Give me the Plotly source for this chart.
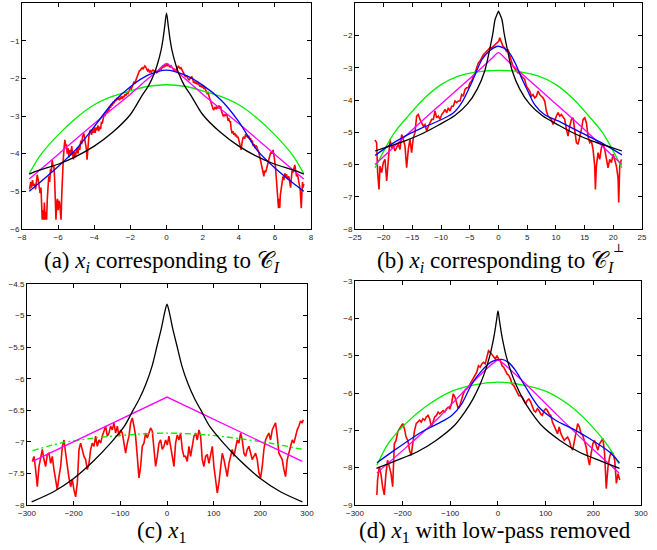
import plotly.graph_objects as go

# ---------------- Panel (a) ----------------
RED_A = [(-7.58,-4.95),(-7.52,-4.75),(-7.47,-4.9),(-7.42,-4.7),(-7.37,-4.85),(-7.3,-4.8),(-7.25,-4.95),(-7.2,-4.75),(-7.16,-4.56),(-7.1,-4.7),(-7.05,-4.95),(-7.0,-5.05),(-6.95,-4.9),(-6.92,-5.4),(-6.88,-5.75),(-6.84,-5.5),(-6.8,-5.75),(-6.76,-5.3),(-6.72,-5.75),(-6.68,-5.55),(-6.64,-5.75),(-6.6,-5.2),(-6.56,-4.9),(-6.52,-4.6),(-6.47,-4.75),(-6.42,-4.4),(-6.38,-4.5),(-6.33,-4.16),(-6.28,-4.35),(-6.24,-4.3),(-6.2,-4.6),(-6.16,-5.1),(-6.12,-5.75),(-6.08,-5.3),(-6.04,-5.2),(-6.0,-5.5),(-5.96,-5.25),(-5.92,-5.3),(-5.88,-5.6),(-5.84,-5.75),(-5.8,-5.1),(-5.77,-4.6),(-5.72,-4.2),(-5.68,-3.9),(-5.63,-3.63),(-5.58,-3.8),(-5.54,-3.75),(-5.5,-4.0),(-5.45,-3.85),(-5.4,-4.1),(-5.35,-3.9),(-5.3,-4.05),(-5.25,-3.8),(-5.2,-4.0),(-5.15,-4.15),(-5.1,-3.95),(-5.05,-4.1),(-5.0,-3.95),(-4.95,-3.85),(-4.9,-4.0),(-4.85,-3.8),(-4.8,-3.9),(-4.75,-3.65),(-4.7,-3.75),(-4.65,-3.55),(-4.58,-3.46),(-4.53,-3.6),(-4.48,-3.75),(-4.43,-3.9),(-4.4,-4.16),(-4.36,-3.8),(-4.3,-3.55),(-4.24,-3.4),(-4.2,-3.37),(-4.15,-3.5),(-4.1,-3.35),(-4.05,-3.45),(-4.0,-3.3),(-3.95,-3.45),(-3.9,-3.3),(-3.85,-3.38),(-3.8,-3.25),(-3.75,-3.4),(-3.7,-3.28),(-3.65,-3.35),(-3.6,-3.15),(-3.56,-3.2),(-3.5,-3.05),(-3.45,-2.95),(-3.4,-3.0),(-3.35,-2.88),(-3.3,-2.92),(-3.25,-2.82),(-3.2,-2.86),(-3.15,-2.75),(-3.1,-2.78),(-3.05,-2.68),(-3.0,-2.72),(-2.95,-2.62),(-2.9,-2.66),(-2.85,-2.57),(-2.8,-2.6),(-2.75,-2.52),(-2.7,-2.57),(-2.65,-2.5),(-2.6,-2.58),(-2.55,-2.52),(-2.5,-2.48),(-2.45,-2.55),(-2.4,-2.47),(-2.35,-2.5),(-2.3,-2.42),(-2.25,-2.46),(-2.2,-2.38),(-2.15,-2.42),(-2.1,-2.36),(-2.05,-2.32),(-2.0,-2.25),(-1.95,-2.28),(-1.9,-2.2),(-1.85,-2.16),(-1.8,-2.1),(-1.75,-2.12),(-1.7,-2.05),(-1.65,-1.98),(-1.6,-1.9),(-1.55,-1.85),(-1.5,-1.8),(-1.45,-1.78),(-1.4,-1.75),(-1.35,-1.72),(-1.3,-1.75),(-1.25,-1.7),(-1.2,-1.67),(-1.15,-1.7),(-1.1,-1.75),(-1.05,-1.8),(-1.0,-1.77),(-0.95,-1.83),(-0.9,-1.8),(-0.85,-1.84),(-0.8,-1.8),(-0.75,-1.78),(-0.7,-1.8),(-0.65,-1.83),(-0.6,-1.79),(-0.55,-1.85),(-0.5,-1.84),(-0.45,-1.8),(-0.4,-1.77),(-0.35,-1.74),(-0.3,-1.76),(-0.25,-1.7),(-0.2,-1.68),(-0.15,-1.7),(-0.1,-1.65),(-0.05,-1.67),(0.0,-1.62),(0.05,-1.66),(0.1,-1.64),(0.15,-1.68),(0.2,-1.7),(0.25,-1.67),(0.3,-1.72),(0.35,-1.75),(0.4,-1.78),(0.45,-1.76),(0.5,-1.8),(0.55,-1.78),(0.6,-1.72),(0.65,-1.68),(0.7,-1.7),(0.75,-1.74),(0.8,-1.72),(0.85,-1.77),(0.9,-1.8),(0.95,-1.85),(1.0,-1.9),(1.05,-1.96),(1.1,-1.92),(1.15,-1.98),(1.2,-2.02),(1.25,-2.04),(1.3,-2.0),(1.35,-1.96),(1.4,-1.95),(1.45,-2.02),(1.5,-2.12),(1.55,-2.08),(1.6,-2.14),(1.65,-2.1),(1.7,-2.16),(1.75,-2.12),(1.8,-2.18),(1.85,-2.22),(1.9,-2.18),(1.95,-2.24),(2.0,-2.2),(2.05,-2.26),(2.1,-2.24),(2.15,-2.3),(2.2,-2.35),(2.25,-2.4),(2.3,-2.38),(2.35,-2.5),(2.4,-2.55),(2.45,-2.62),(2.5,-2.7),(2.55,-2.78),(2.6,-2.84),(2.65,-2.8),(2.7,-2.76),(2.75,-2.82),(2.8,-2.74),(2.85,-2.8),(2.9,-2.72),(2.95,-2.78),(3.0,-2.75),(3.05,-2.88),(3.1,-2.95),(3.15,-3.01),(3.2,-2.96),(3.25,-3.0),(3.3,-2.94),(3.36,-3.0),(3.4,-3.1),(3.45,-3.08),(3.5,-3.15),(3.54,-3.15),(3.58,-3.35),(3.63,-3.46),(3.68,-3.4),(3.73,-3.5),(3.78,-3.45),(3.82,-3.54),(3.87,-3.5),(3.92,-3.58),(3.96,-3.55),(4.0,-3.63),(4.05,-3.7),(4.1,-3.8),(4.13,-3.9),(4.17,-3.75),(4.22,-3.6),(4.28,-3.55),(4.33,-3.6),(4.38,-3.48),(4.43,-3.55),(4.46,-3.5),(4.5,-3.58),(4.55,-3.52),(4.6,-3.62),(4.65,-3.58),(4.7,-3.68),(4.75,-3.65),(4.8,-3.8),(4.85,-3.75),(4.9,-3.85),(4.95,-3.78),(5.0,-3.82),(5.05,-3.9),(5.1,-3.95),(5.15,-4.05),(5.2,-4.16),(5.25,-4.3),(5.3,-4.4),(5.35,-4.55),(5.39,-4.6),(5.43,-4.45),(5.48,-4.5),(5.54,-4.4),(5.58,-4.3),(5.63,-4.2),(5.68,-4.1),(5.72,-4.05),(5.76,-3.99),(5.8,-3.95),(5.85,-4.0),(5.9,-3.9),(5.95,-4.05),(6.0,-4.2),(6.03,-4.34),(6.07,-4.6),(6.1,-4.85),(6.13,-5.05),(6.16,-5.2),(6.2,-5.45),(6.23,-5.2),(6.27,-5.44),(6.3,-5.1),(6.35,-4.9),(6.4,-4.78),(6.45,-4.6),(6.5,-4.7),(6.55,-4.52),(6.6,-4.6),(6.65,-4.55),(6.7,-4.68),(6.77,-4.6),(6.82,-4.75),(6.87,-4.9),(6.9,-4.7),(6.96,-4.43),(7.0,-4.5),(7.05,-4.35),(7.1,-4.3),(7.15,-4.45),(7.2,-4.6),(7.25,-4.55),(7.3,-4.7),(7.35,-4.8),(7.4,-4.95),(7.43,-5.2),(7.46,-5.45),(7.5,-5.0),(7.53,-4.75),(7.56,-4.9),(7.6,-4.8)]

BLACK_A_X = [-7.6,-7,-6,-5,-4,-3,-2,-1.35,-1,-0.7,-0.5,-0.3,-0.2,-0.1,0,0.1,0.2,0.3,0.5,0.7,1,1.35,2,3,4,5,6,7,7.6]
BLACK_A_Y = [-4.54,-4.43,-4.28,-4.07,-3.8,-3.44,-2.96,-2.45,-2.2,-1.9,-1.62,-1.25,-0.98,-0.62,-0.27,-0.62,-0.98,-1.25,-1.62,-1.9,-2.2,-2.45,-2.96,-3.44,-3.8,-4.07,-4.28,-4.43,-4.54]
GREEN_A_X = [-7.6,-7,-6,-5,-4,-3,-2,-1,0,1,2,3,4,5,6,7,7.6]
GREEN_A_Y = [-4.53,-4.05,-3.5,-3.05,-2.7,-2.48,-2.33,-2.21,-2.17,-2.21,-2.33,-2.48,-2.7,-3.05,-3.5,-4.05,-4.53]
MAGENTA_A_X = [-7.6,-6,-4,-2,-1,-0.5,-0.2,0,0.2,0.5,1,2,4,6,7.6]
MAGENTA_A_Y = [-4.67,-4.02,-3.2,-2.42,-2.0,-1.8,-1.66,-1.6,-1.66,-1.8,-2.0,-2.42,-3.2,-4.02,-4.67]
BLUE_A_X = [-7.6,-7,-6,-5,-4,-3,-2,-1,0,1,2,3,4,5,6,7,7.6]
BLUE_A_Y = [-5.0,-4.76,-4.34,-3.88,-3.28,-2.66,-2.22,-1.91,-1.78,-1.91,-2.18,-2.57,-3.15,-3.9,-4.38,-4.78,-5.0]

# ---------------- Panel (b) ----------------
RED_B = [(-21.52,-5.24),(-21.23,-5.32),(-21.05,-6.25),(-20.82,-6.77),(-20.64,-6.05),(-20.35,-6.25),(-20.06,-5.94),(-19.77,-5.84),(-19.48,-6.51),(-19.19,-5.84),(-18.9,-5.22),(-18.61,-5.48),(-18.32,-5.43),(-18.03,-5.58),(-17.74,-5.48),(-17.45,-5.37),(-17.16,-5.53),(-16.87,-5.07),(-16.58,-5.22),(-16.29,-5.43),(-16.0,-6.1),(-15.71,-5.53),(-15.42,-5.22),(-15.13,-5.63),(-14.84,-5.17),(-14.55,-5.01),(-14.26,-4.5),(-13.97,-4.45),(-13.68,-4.6),(-13.39,-4.7),(-13.1,-4.81),(-12.8,-4.76),(-12.51,-4.96),(-12.22,-4.81),(-11.93,-4.7),(-11.64,-4.6),(-11.35,-4.6),(-11.06,-4.34),(-10.77,-4.55),(-10.48,-4.5),(-10.19,-4.6),(-9.9,-4.45),(-9.61,-4.39),(-9.32,-4.29),(-9.03,-4.39),(-8.74,-4.24),(-8.45,-4.34),(-8.16,-4.19),(-7.87,-4.19),(-7.58,-4.03),(-7.29,-4.08),(-7.0,-4.03),(-6.71,-4.03),(-6.42,-3.83),(-6.13,-3.88),(-5.84,-3.67),(-5.55,-3.62),(-5.26,-3.62),(-4.97,-3.47),(-4.67,-3.41),(-4.38,-3.26),(-4.09,-3.16),(-3.8,-3.0),(-3.51,-2.85),(-3.22,-2.79),(-2.93,-2.69),(-2.64,-2.59),(-2.35,-2.54),(-2.06,-2.49),(-1.77,-2.43),(-1.48,-2.38),(-1.19,-2.38),(-0.9,-2.33),(-0.61,-2.28),(-0.32,-2.23),(0.03,-2.18),(0.21,-2.07),(0.5,-2.18),(0.79,-2.33),(1.08,-2.38),(1.37,-2.49),(1.66,-2.43),(1.95,-2.64),(2.24,-2.79),(2.53,-2.95),(2.82,-3.05),(3.11,-3.1),(3.4,-3.16),(3.7,-3.16),(3.99,-3.26),(4.28,-3.31),(4.57,-3.36),(4.86,-3.57),(5.15,-3.67),(5.44,-3.72),(5.73,-3.88),(6.02,-3.83),(6.31,-3.93),(6.6,-3.88),(6.89,-3.72),(7.18,-3.83),(7.47,-3.88),(7.76,-3.93),(8.05,-4.03),(8.34,-4.34),(8.63,-4.5),(8.92,-4.55),(9.21,-4.6),(9.5,-4.76),(9.79,-4.6),(10.08,-4.5),(10.37,-4.39),(10.66,-4.5),(10.95,-4.45),(11.24,-4.55),(11.53,-4.6),(11.83,-4.91),(12.12,-5.12),(12.41,-4.81),(12.7,-4.6),(12.99,-4.55),(13.28,-5.01),(13.57,-5.32),(13.86,-5.37),(14.15,-5.17),(14.44,-4.91),(14.73,-4.6),(15.02,-4.55),(15.31,-4.7),(15.6,-5.12),(15.89,-5.32),(16.18,-5.27),(16.47,-5.53),(16.76,-6.05),(16.88,-6.77),(17.05,-6.05),(17.34,-5.63),(17.63,-5.84),(17.92,-5.48),(18.21,-5.37),(18.5,-5.53),(18.79,-5.84),(19.08,-6.1),(19.37,-5.84),(19.67,-5.94),(19.96,-5.68),(20.25,-5.84),(20.54,-6.05),(20.83,-6.41),(20.94,-7.18),(21.12,-6.05),(21.41,-5.84)]

BLACK_B_X = [-21.5,-19,-16.5,-13.5,-10.5,-7.6,-5.4,-3.7,-2.4,-1.5,-1.0,-0.6,-0.3,-0.15,0,0.15,0.3,0.6,1.0,1.5,2.4,3.7,5.4,7.6,10.5,13.5,16.5,19,21.5]
BLACK_B_Y = [-5.58,-5.43,-5.28,-5.06,-4.78,-4.48,-4.12,-3.66,-3.1,-2.4,-1.95,-1.5,-1.36,-1.3,-1.24,-1.3,-1.36,-1.5,-1.95,-2.4,-3.1,-3.66,-4.12,-4.48,-4.78,-5.06,-5.28,-5.43,-5.58]
GREEN_B_X = [-21.5,-19.5,-18,-16,-13,-10,-7,-4,0,4,7,10,13,16,18,19.5,21.5]
GREEN_B_Y = [-6.1,-5.42,-4.98,-4.55,-3.96,-3.52,-3.26,-3.13,-3.08,-3.13,-3.26,-3.52,-3.96,-4.55,-4.98,-5.42,-6.1]
MAGENTA_B_X = [-21.5,-15,-10,-5,-1,-0.4,0,0.4,1,5,10,15,21.5]
MAGENTA_B_Y = [-6.0,-4.92,-4.12,-3.33,-2.68,-2.57,-2.53,-2.57,-2.68,-3.33,-4.12,-4.92,-6.0]
BLUE_B_X = [-21.5,-19.2,-16.5,-13.5,-10.5,-8,-6.4,-4.7,-2.9,-1.7,0,1.7,2.9,4,5.1,6.3,8,11,14.4,17.9,21.5]
BLUE_B_Y = [-5.72,-5.43,-5.14,-4.88,-4.65,-4.42,-4.08,-3.47,-2.75,-2.49,-2.33,-2.49,-2.85,-3.31,-3.72,-4.14,-4.45,-4.7,-5.01,-5.32,-5.7]

# ---------------- Panel (c) ----------------
RED_C_X = [-288.6,-285.0,-281.5,-277.9,-274.3,-270.8,-267.2,-263.6,-260.0,-256.5,-252.9,-249.3,-245.8,-242.2,-238.6,-235.1,-231.5,-227.9,-224.3,-220.8,-217.2,-213.6,-210.1,-206.5,-202.9,-199.4,-195.8,-192.2,-188.6,-185.1,-181.5,-177.9,-174.4,-170.8,-167.2,-163.6,-160.1,-156.5,-152.9,-149.4,-145.8,-142.2,-138.7,-135.1,-131.5,-127.9,-124.4,-120.8,-117.2,-113.7,-110.1,-106.5,-102.9,-99.4,-95.8,-92.2,-88.7,-85.1,-81.5,-78.0,-74.4,-70.8,-67.3,-63.7,-60.1,-56.5,-53.0,-49.4,-45.8,-42.3,-38.7,-35.1,-31.5,-28.0,-24.4,-20.8,-17.3,-13.7,-10.1,-6.6,-3.0,0.6,4.1,7.7,11.3,14.9,18.4,22.0,25.6,29.1,32.7,36.3,39.8,43.4,47.0,50.6,54.1,57.7,61.3,64.8,68.4,72.0,75.5,79.1,82.7,86.3,89.8,93.4,97.0,100.5,104.1,107.7,111.2,114.8,118.4,122.0,125.5,129.1,132.7,136.2,139.8,143.4,146.9,150.5,154.1,157.7,161.2,164.8,168.4,171.9,175.5,179.1,182.6,186.2,189.8,193.4,196.9,200.5,204.1,207.6,211.2,214.8,218.3,221.9,225.5,229.1,232.6,236.2,239.8,243.3,246.9,250.5,254.0,257.6,261.2,264.8,268.3,271.9,275.5,279.0,282.6,286.2,289.7,291.9]
RED_C_Y = [-7.31,-7.23,-7.44,-7.71,-7.39,-7.23,-7.12,-7.28,-7.39,-7.20,-7.18,-7.34,-7.23,-7.44,-7.60,-7.76,-7.55,-7.39,-7.07,-6.97,-7.18,-7.39,-7.57,-7.71,-7.60,-7.76,-7.87,-7.65,-7.12,-7.02,-7.12,-7.23,-7.28,-7.44,-7.34,-7.12,-7.02,-7.07,-6.91,-7.07,-6.97,-7.02,-6.91,-6.81,-6.75,-6.91,-6.86,-6.75,-6.81,-6.70,-6.86,-6.75,-6.91,-6.81,-6.86,-7.02,-7.18,-7.02,-6.91,-6.70,-6.62,-6.75,-6.91,-7.23,-7.57,-7.39,-7.07,-7.02,-6.86,-6.94,-6.86,-6.78,-6.83,-7.12,-7.39,-7.23,-7.02,-6.97,-7.12,-7.07,-6.97,-7.05,-6.91,-7.07,-7.23,-7.39,-7.02,-6.89,-6.97,-6.86,-7.12,-7.23,-7.23,-7.31,-7.07,-7.23,-7.07,-6.91,-6.86,-6.97,-6.81,-6.91,-7.28,-7.39,-7.23,-7.20,-7.34,-7.23,-7.07,-7.39,-7.60,-7.81,-7.65,-7.44,-7.18,-7.28,-7.39,-7.55,-7.34,-7.23,-7.12,-7.23,-7.07,-6.97,-7.02,-6.86,-6.97,-7.18,-7.23,-7.12,-7.07,-7.18,-7.28,-7.23,-7.18,-7.28,-7.49,-7.57,-7.39,-7.12,-6.97,-6.91,-6.86,-6.97,-6.81,-6.75,-6.70,-6.91,-7.18,-7.23,-7.28,-7.44,-7.55,-7.28,-7.18,-7.07,-6.97,-7.02,-6.91,-6.81,-6.75,-6.67,-6.70,-6.65]

BLACK_C_X = [-290,-243,-200,-157,-121,-92,-72,-60,-45,-32,-21,-12,-5,0,5,12,21,32,45,60,72,92,121,157,200,243,290]
BLACK_C_Y = [-7.95,-7.79,-7.58,-7.3,-7.02,-6.76,-6.49,-6.33,-6.08,-5.8,-5.47,-5.2,-4.95,-4.82,-4.95,-5.2,-5.47,-5.8,-6.08,-6.33,-6.49,-6.76,-7.02,-7.3,-7.58,-7.79,-7.95]
MAGENTA_C_X = [-288,0,290]
MAGENTA_C_Y = [-7.31,-6.29,-7.31]
GREEN_C_X = [-288,-228,-157,-85,0,86,157,228,291]
GREEN_C_Y = [-7.14,-7.02,-6.94,-6.89,-6.86,-6.89,-6.95,-7.03,-7.12]

# ---------------- Panel (d) ----------------
RED_D_X = [-254.1,-252.6,-249.1,-245.6,-242.1,-238.5,-235.0,-231.5,-227.9,-224.4,-220.9,-218.8,-217.4,-213.8,-210.3,-206.8,-203.2,-199.7,-196.2,-192.7,-189.1,-185.6,-182.1,-178.5,-175.0,-171.5,-168.0,-164.4,-160.9,-157.4,-153.8,-150.3,-146.8,-143.3,-139.7,-136.2,-132.7,-129.1,-125.6,-122.1,-118.6,-115.0,-111.5,-108.0,-104.4,-100.9,-97.4,-93.9,-90.3,-86.8,-83.3,-79.7,-76.2,-72.7,-69.2,-65.6,-62.1,-58.6,-55.0,-51.5,-48.0,-44.5,-40.9,-37.4,-33.9,-30.3,-26.8,-23.3,-19.8,-16.2,-12.7,-9.2,-5.6,-2.1,1.4,4.9,8.5,12.0,15.5,19.1,22.6,26.1,29.6,33.2,36.7,40.2,43.8,47.3,50.8,54.3,57.9,61.4,64.9,68.5,72.0,75.5,79.0,82.6,86.1,89.6,93.2,96.7,100.2,103.7,107.3,110.8,114.3,117.9,121.4,124.9,128.4,132.0,135.5,139.0,142.6,146.1,149.6,153.1,156.7,160.2,163.7,167.3,170.8,174.3,177.8,181.4,184.9,188.4,192.0,195.5,199.0,202.5,206.1,209.6,213.1,216.7,220.2,223.7,227.2,230.8,234.3,237.8,241.4,244.9,248.4,251.9,255.5]
RED_D_Y = [-8.73,-8.33,-7.98,-8.16,-8.51,-8.73,-8.16,-7.80,-7.98,-8.16,-8.51,-7.98,-7.36,-7.27,-7.04,-6.96,-6.87,-6.82,-6.96,-7.18,-7.27,-7.53,-7.67,-7.27,-7.00,-6.82,-6.78,-6.73,-6.78,-6.69,-6.73,-6.64,-6.60,-6.69,-6.91,-6.78,-6.64,-6.60,-6.51,-6.56,-6.51,-6.47,-6.51,-6.42,-6.38,-6.42,-6.29,-6.02,-6.11,-6.29,-6.42,-6.33,-6.16,-6.02,-5.93,-5.89,-5.84,-5.76,-5.67,-5.58,-5.49,-5.44,-5.27,-5.31,-5.22,-5.18,-5.22,-5.00,-4.87,-4.91,-4.96,-5.04,-5.09,-5.00,-5.09,-5.13,-5.27,-5.31,-5.40,-5.49,-5.53,-5.62,-5.76,-5.80,-5.89,-5.98,-6.07,-6.07,-6.11,-6.20,-6.29,-6.20,-6.16,-6.24,-6.38,-6.47,-6.51,-6.42,-6.47,-6.56,-6.60,-6.47,-6.42,-6.47,-6.56,-6.60,-6.78,-6.87,-7.00,-7.09,-6.91,-7.09,-7.18,-7.27,-7.22,-7.18,-7.27,-7.44,-7.53,-7.27,-7.00,-6.82,-6.91,-7.09,-7.13,-7.27,-7.44,-7.71,-7.93,-7.62,-7.36,-7.27,-7.44,-7.53,-7.36,-7.27,-7.22,-7.62,-8.56,-7.98,-7.71,-7.58,-7.62,-7.80,-8.42,-8.16,-8.33]

BLACK_D_X = [-255,-215,-170,-130,-90,-69,-52,-37,-27,-17,-12,-7,-3,0,3,7,12,17,27,37,52,69,90,130,170,215,255]
BLACK_D_Y = [-8.02,-7.82,-7.58,-7.27,-6.85,-6.5,-6.15,-5.75,-5.42,-5.0,-4.72,-4.38,-4.05,-3.8,-4.05,-4.38,-4.72,-5.0,-5.42,-5.75,-6.15,-6.5,-6.85,-7.27,-7.58,-7.82,-8.02]
GREEN_D_X = [-254,-230,-192,-150,-100,-50,0,50,100,150,192,230,254]
GREEN_D_Y = [-7.93,-7.35,-6.8,-6.35,-5.97,-5.78,-5.71,-5.78,-5.95,-6.33,-6.82,-7.4,-7.9]
MAGENTA_D_X = [-254,-192,-125,-60,-10,0,10,60,125,192,254]
MAGENTA_D_Y = [-8.14,-7.45,-6.67,-5.8,-5.2,-5.12,-5.2,-5.78,-6.6,-7.42,-8.14]
BLUE_D_X = [-254,-217,-161,-126,-97,-76,-55,-34,-13,8,22,37,58,86,121,157,192,234,255]
BLUE_D_Y = [-7.87,-7.53,-7.05,-6.82,-6.6,-6.29,-5.76,-5.4,-5.16,-5.1,-5.18,-5.4,-5.84,-6.38,-6.73,-6.96,-7.22,-7.58,-7.87]

CAPTIONS = [
    "(a) <i>x</i><sub><i>i</i></sub> corresponding to \U0001D49E<sub><i>I</i></sub>",
    "(b) <i>x</i><sub><i>i</i></sub> corresponding to \U0001D49E<sub><i>I</i></sub>",
    "(c) <i>x</i><sub>1</sub>",
    "(d) <i>x</i><sub>1</sub> with low-pass removed",
]

RED = "#ff0000"
GREEN = "#00ee00"
BLUE = "#0000ff"
MAGENTA = "#ff00ff"
BLACK = "#000000"

fig = go.Figure()


def line(x, y, color, width, ax, shape="linear", dash="solid"):
    fig.add_trace(go.Scatter(
        x=x, y=y, mode="lines", xaxis="x" + ax, yaxis="y" + ax,
        line=dict(color=color, width=width, shape=shape, dash=dash,
                  smoothing=0.8 if shape == "spline" else None),
        hoverinfo="skip", showlegend=False))


def unzip(pairs):
    return [p[0] for p in pairs], [p[1] for p in pairs]


rx, ry = unzip(RED_A)
line(rx, ry, RED, 1.6, "")
line(GREEN_A_X, GREEN_A_Y, GREEN, 1.3, "", "spline")
line(MAGENTA_A_X, MAGENTA_A_Y, MAGENTA, 1.3, "", "spline")
line(BLUE_A_X, BLUE_A_Y, BLUE, 1.3, "", "spline")
line(BLACK_A_X, BLACK_A_Y, BLACK, 1.3, "", "spline")

rx, ry = unzip(RED_B)
line(rx, ry, RED, 1.6, "2")
line(GREEN_B_X, GREEN_B_Y, GREEN, 1.3, "2", "spline")
line(MAGENTA_B_X, MAGENTA_B_Y, MAGENTA, 1.3, "2", "spline")
line(BLUE_B_X, BLUE_B_Y, BLUE, 1.3, "2", "spline")
line(BLACK_B_X, BLACK_B_Y, BLACK, 1.3, "2", "spline")

line(RED_C_X, RED_C_Y, RED, 1.6, "3")
line(GREEN_C_X, GREEN_C_Y, GREEN, 1.3, "3", "spline", "6px,3px,2px,3px")
line(MAGENTA_C_X, MAGENTA_C_Y, MAGENTA, 1.3, "3")
line(BLACK_C_X, BLACK_C_Y, BLACK, 1.3, "3", "spline")

line(RED_D_X, RED_D_Y, RED, 1.6, "4")
line(GREEN_D_X, GREEN_D_Y, GREEN, 1.3, "4", "spline")
line(MAGENTA_D_X, MAGENTA_D_Y, MAGENTA, 1.3, "4", "spline")
line(BLUE_D_X, BLUE_D_Y, BLUE, 1.3, "4", "spline")
line(BLACK_D_X, BLACK_D_Y, BLACK, 1.3, "4", "spline")

common = dict(showline=True, linecolor="black", linewidth=1, mirror="ticks",
              ticks="inside", ticklen=4, tickwidth=1, tickcolor="black",
              showgrid=False, zeroline=False, automargin=False,
              tickfont=dict(family="Liberation Sans, Arial, sans-serif", size=8, color="#222"))

fig.update_layout(
    width=657, height=550,
    margin=dict(l=0, r=0, t=0, b=0, pad=0, autoexpand=False),
    paper_bgcolor="white", plot_bgcolor="white",
    showlegend=False,
    xaxis=dict(common, domain=[0.0335, 0.4734], range=[-8, 8], dtick=2, anchor="y"),
    yaxis=dict(common, domain=[0.5836, 0.9945], range=[-6, 0], dtick=1, anchor="x"),
    xaxis2=dict(common, domain=[0.5403, 0.9772], range=[-25, 25], dtick=5, anchor="y2"),
    yaxis2=dict(common, domain=[0.5836, 0.9939], range=[-8, -1], dtick=1, anchor="x2"),
    xaxis3=dict(common, domain=[0.0411, 0.4673], range=[-300, 300], dtick=100, anchor="y3"),
    yaxis3=dict(common, domain=[0.0818, 0.4836], range=[-8, -4.5], dtick=0.5, anchor="x3"),
    xaxis4=dict(common, domain=[0.5403, 0.9756], range=[-300, 300], dtick=100, anchor="y4"),
    yaxis4=dict(common, domain=[0.0818, 0.4891], range=[-9, -3], dtick=1, anchor="x4"),
)

cap_font = dict(family="Liberation Serif, Times New Roman, serif", size=23, color="black")
cap_pos = [(162 / 657, 1 - 262 / 550), (495 / 657, 1 - 262 / 550),
           (162 / 657, 1 - 532 / 550), (495 / 657, 1 - 532 / 550)]
for txt, (cx, cy) in zip(CAPTIONS, cap_pos):
    fig.add_annotation(text=txt, x=cx, y=cy, xref="paper", yref="paper",
                       showarrow=False, xanchor="center", yanchor="middle", font=cap_font)
fig.add_annotation(text="\u22a5", x=618 / 657, y=1 - 248 / 550, xref="paper", yref="paper",
                   showarrow=False, xanchor="center", yanchor="middle",
                   font=dict(family="Liberation Serif, DejaVu Serif, serif", size=12, color="black"))

fig.write_html("out.html", config={"displayModeBar": False},
               post_script="document.body.style.margin='0';document.body.style.padding='0';")
